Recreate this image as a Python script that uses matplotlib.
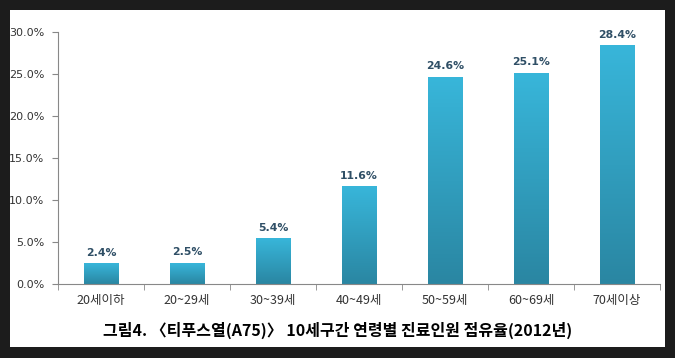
import numpy as np
import matplotlib.pyplot as plt
from matplotlib.colors import LinearSegmentedColormap
from matplotlib.patches import Rectangle

plt.rcParams['font.family'] = ['Noto Sans CJK KR', 'DejaVu Sans']

# data
categories = ['20세이하', '20~29세', '30~39세', '40~49세', '50~59세', '60~69세', '70세이상']
shares = [2.4, 2.5, 5.4, 11.6, 24.6, 25.1, 28.4]
title = '그림4. 〈티푸스열(A75)〉 10세구간 연령별 진료인원 점유율(2012년)'

fig = plt.figure(figsize=(6.75, 3.58), dpi=100)
fig.patch.set_facecolor('#1c1c1c')
fig.patches.append(Rectangle((10 / 675, 11 / 358), 655 / 675, 337 / 358,
                             transform=fig.transFigure, facecolor='white',
                             edgecolor='none', zorder=-10))

ax = fig.add_axes([58 / 675, 74 / 358, 602 / 675, 252 / 358])
ax.set_facecolor('none')

x = np.arange(len(categories))
bw = 0.4
cmap = LinearSegmentedColormap.from_list('bar', ['#2a86a2', '#38b6da'])
grad = np.linspace(0, 1, 256).reshape(-1, 1)
bars = ax.bar(x, shares, width=bw, color='none', edgecolor='none')
for b, v in zip(bars, shares):
    ax.imshow(grad, cmap=cmap, origin='lower', aspect='auto',
              extent=(b.get_x(), b.get_x() + bw, 0, v), zorder=2)
    ax.text(b.get_x() + bw / 2, v + 0.7, f'{v:.1f}%', ha='center', va='bottom',
            fontsize=7.8, fontweight='bold', color='#2f4f66', family='DejaVu Sans')

ax.set_xlim(-0.5, len(categories) - 0.5)
ax.set_ylim(0, 30)
ax.set_yticks(np.arange(0, 31, 5))
ax.set_yticklabels([f'{t:.1f}%' for t in np.arange(0, 31, 5)], fontsize=8,
                   color='#333333', family='DejaVu Sans')
ax.set_xticks(x)
ax.set_xticklabels(categories, fontsize=9, color='#333333')
ax.set_xticks(np.arange(-0.5, len(categories)), minor=True)
ax.tick_params(axis='x', which='major', length=0, pad=7)
ax.tick_params(axis='x', which='minor', length=4, color='#888888')
ax.tick_params(axis='y', length=4, color='#888888', pad=6)
for s in ['top', 'right']:
    ax.spines[s].set_visible(False)
for s in ['left', 'bottom']:
    ax.spines[s].set_color('#888888')

fig.text(0.5, 28 / 358, title, ha='center', va='center', fontsize=11.5,
         fontweight='bold', color='black')

fig.savefig('out.png', dpi=100, facecolor=fig.get_facecolor())
